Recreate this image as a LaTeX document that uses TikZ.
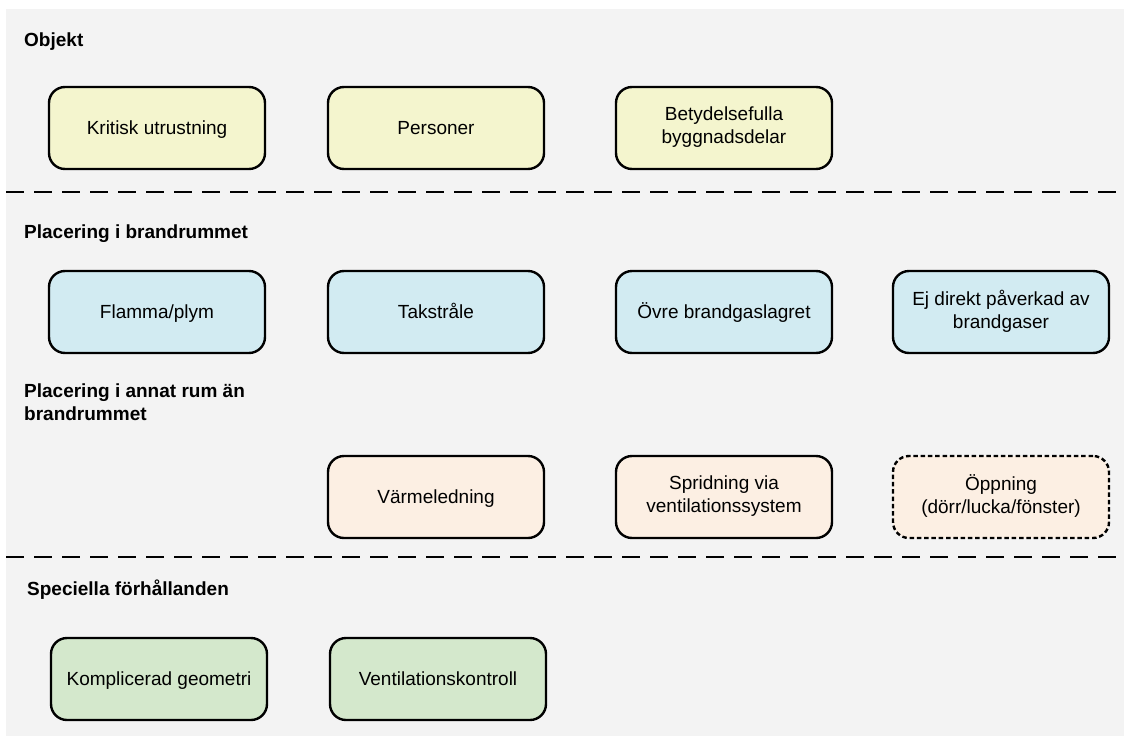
\documentclass[tikz,border=0pt]{standalone}
\usepackage{fontspec}
\setmainfont{Liberation Sans}
\usetikzlibrary{calc}

\definecolor{bggray}{HTML}{F3F3F3}
\definecolor{objyellow}{HTML}{F4F5CE}
\definecolor{roomblue}{HTML}{D2EBF2}
\definecolor{otherpeach}{HTML}{FCEFE3}
\definecolor{specgreen}{HTML}{D4E8CC}

\newcommand{\boxstrut}{\rule[-5.5pt]{0pt}{23pt}}

\begin{document}
\begin{tikzpicture}[x=1pt,y=-1pt,
        box/.style={draw=black,line width=2.4pt,rounded corners=16pt,
            minimum width=216pt,minimum height=82pt,inner sep=0pt,
            align=center,font=\fontsize{19}{23}\selectfont,
            execute at begin node=\boxstrut,execute at end node=\boxstrut},
        header/.style={anchor=base west,inner sep=0pt,align=left,
            font=\bfseries\fontsize{19}{23}\selectfont},
        divider/.style={line width=1.3pt,dash pattern=on 18pt off 10pt}]

                    \useasboundingbox (0,0) rectangle (1124,736);
                    \fill[bggray] (6,9) rectangle (1124,736);

                    \node[header] (hobj) at (24,46) {Objekt};
                    \node[box,fill=objyellow] (krit) at (157,128) {Kritisk utrustning};
                    \node[box,fill=objyellow] (pers) at (436,128) {Personer};
                    \node[box,fill=objyellow] (bygg) at (724,128) {Betydelsefulla\\byggnadsdelar};

                    \coordinate (d1a) at (6,192);
                    \coordinate (d1b) at (1116,192);
                    \draw[divider] (d1a) -- (d1b);

                    \node[header] (hbrand) at (24,238) {Placering i brandrummet};
                    \node[box,fill=roomblue] (flam) at (157,312) {Flamma/plym};
                    \node[box,fill=roomblue] (tak) at (436,312) {Takstråle};
                    \node[box,fill=roomblue] (ovre) at (724,312) {Övre brandgaslagret};
                    \node[box,fill=roomblue] (ejdir) at (1001,312) {Ej direkt påverkad av\\brandgaser};

                    \node[header] (hannat) at (24,420) {Placering i annat rum än\\brandrummet};
                    \node[box,fill=otherpeach] (varme) at (436,497) {Värmeledning};
                    \node[box,fill=otherpeach] (sprid) at (724,497) {Spridning via\\ventilationssystem};
                    \node[box,fill=otherpeach,dash pattern=on 4.5pt off 2.8pt] (oppn) at (1001,497) {Öppning\\(dörr/lucka/fönster)};

                    \coordinate (d2a) at (6,557);
                    \coordinate (d2b) at (1116,557);
                    \draw[divider] (d2a) -- (d2b);

                    \node[header] (hspec) at (27,595) {Speciella förhållanden};
                    \node[box,fill=specgreen] (geom) at (159,679) {Komplicerad geometri};
                    \node[box,fill=specgreen] (vent) at (438,679) {Ventilationskontroll};
                \end{tikzpicture}
\end{document}
